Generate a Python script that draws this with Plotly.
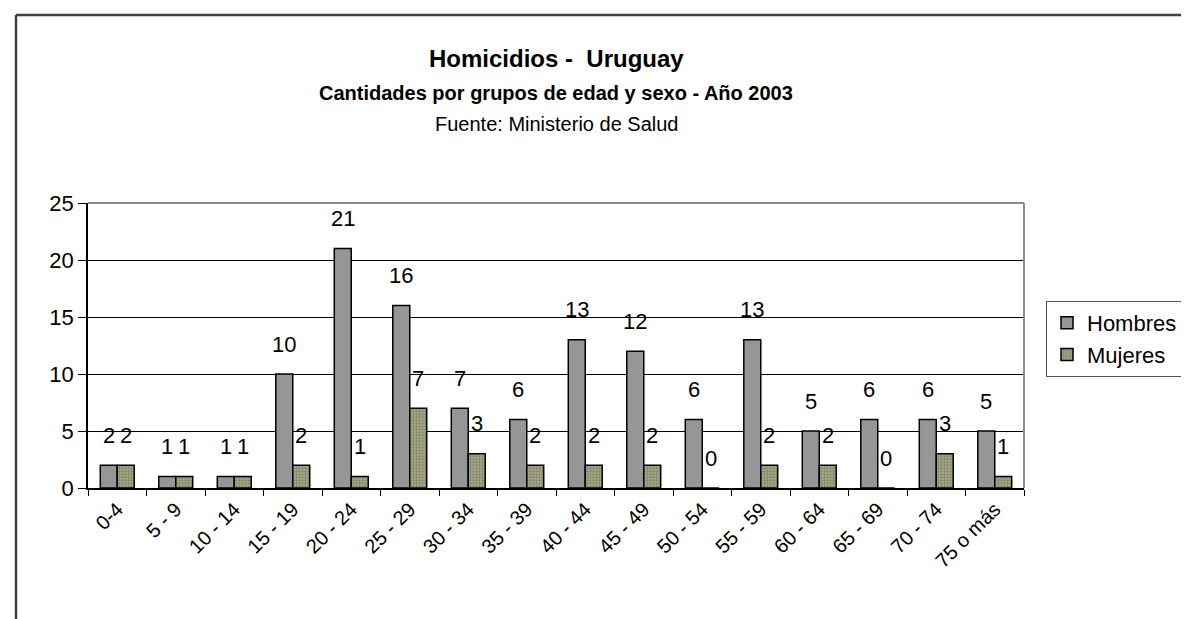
import plotly.graph_objects as go

categories = ["0-4", "5 - 9", "10 - 14", "15 - 19", "20 - 24", "25 - 29", "30 - 34",
              "35 - 39", "40 - 44", "45 - 49", "50 - 54", "55 - 59", "60 - 64",
              "65 - 69", "70 - 74", "75 o más"]
hombres = [2, 1, 1, 10, 21, 16, 7, 6, 13, 12, 6, 13, 5, 6, 6, 5]
mujeres = [2, 1, 1, 2, 1, 7, 3, 2, 2, 2, 0, 2, 2, 0, 3, 1]

W, H = 1189, 619
L, R, T, B = 80, 1016, 195, 480
FONT = "Liberation Sans, Arial, sans-serif"

def px(x):
    return (x - L) / (R - L)

def py(y):
    return (B - y) / (B - T)

fig = go.Figure()
fig.add_trace(go.Bar(
    x=categories, y=hombres, name="Hombres", legendgroup="h",
    marker=dict(color="#969696", line=dict(color="black", width=1.5)),
))
fig.add_trace(go.Bar(
    x=categories, y=mujeres, name="Mujeres", legendgroup="m",
    marker=dict(color="#a8a88a", line=dict(color="black", width=1.5),
                pattern=dict(shape=".", fgcolor="#5e5e42", size=3, solidity=0.45)),
))

annotations = []
for c, v in zip(categories, hombres):
    annotations.append(dict(x=c, y=v, xref="x", yref="y", text=str(v), showarrow=False,
                            xshift=-8.5, yshift=30, yanchor="middle",
                            font=dict(family=FONT, size=22, color="black")))
for c, v in zip(categories, mujeres):
    annotations.append(dict(x=c, y=v, xref="x", yref="y", text=str(v), showarrow=False,
                            xshift=8.5, yshift=30, yanchor="middle",
                            font=dict(family=FONT, size=22, color="black")))

annotations += [
    dict(x=0.5, y=py(50), xref="paper", yref="paper", showarrow=False, yanchor="middle",
         text="<b>Homicidios -&nbsp; Uruguay</b>", font=dict(family=FONT, size=24, color="black")),
    dict(x=0.5, y=py(85), xref="paper", yref="paper", showarrow=False, yanchor="middle",
         text="<b>Cantidades por grupos de edad y sexo - Año 2003</b>",
         font=dict(family=FONT, size=20, color="black")),
    dict(x=0.5, y=py(116), xref="paper", yref="paper", showarrow=False, yanchor="middle",
         text="Fuente: Ministerio de Salud", font=dict(family=FONT, size=20, color="black")),
]

shapes = [
    dict(type="line", xref="paper", yref="paper", x0=0, x1=1, y0=1, y1=1,
         line=dict(color="#8c8c8c", width=2)),
    dict(type="line", xref="paper", yref="paper", x0=1, x1=1, y0=0, y1=1,
         line=dict(color="#8c8c8c", width=2)),
    dict(type="line", xref="paper", yref="paper", x0=px(8), x1=px(8), y0=py(W), y1=py(7),
         line=dict(color="#404040", width=2.5)),
    dict(type="line", xref="paper", yref="paper", x0=px(8), x1=px(W + 20), y0=py(7), y1=py(7),
         line=dict(color="#404040", width=2.5)),
]

fig.update_layout(
    width=W, height=H,
    margin=dict(l=L, r=W - R, t=T, b=H - B, pad=0),
    paper_bgcolor="white", plot_bgcolor="white",
    barmode="group", bargap=0.42, bargroupgap=0,
    font=dict(family=FONT, size=22, color="black"),
    showlegend=True,
    legend=dict(x=px(1038), y=py(293), xanchor="left", yanchor="top",
                bgcolor="white", bordercolor="#555555", borderwidth=1,
                font=dict(family=FONT, size=22, color="black"),
                tracegroupgap=8, traceorder="normal"),
    annotations=annotations,
    shapes=shapes,
)
fig.update_xaxes(
    type="category", tickangle=-45, tickson="boundaries",
    ticks="outside", ticklen=6, tickcolor="black",
    showline=True, linecolor="black", linewidth=1.5,
    showgrid=False, tickfont=dict(family=FONT, size=20, color="black"),
)
fig.update_yaxes(
    range=[0, 25], dtick=5, tick0=0,
    ticks="outside", ticklen=8, tickcolor="black",
    showline=True, linecolor="black", linewidth=1.5,
    showgrid=True, gridcolor="black", gridwidth=1,
    zeroline=False, tickfont=dict(family=FONT, size=22, color="black"),
)

fig.write_html("out.html")
